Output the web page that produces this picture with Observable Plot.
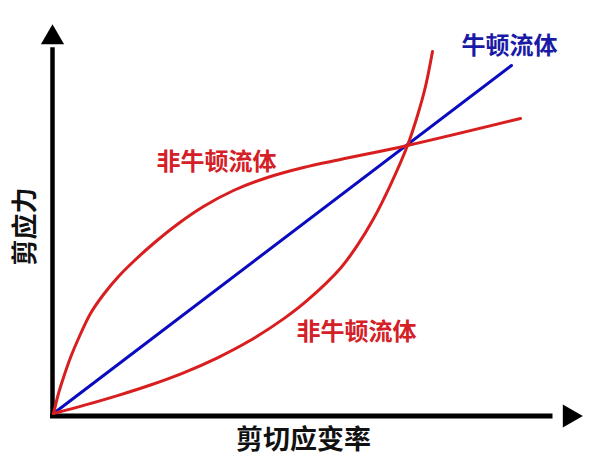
<!DOCTYPE html>
<html>
<head>
<meta charset="utf-8">
<script src="https://cdn.jsdelivr.net/npm/d3@7"></script>
<script src="https://cdn.jsdelivr.net/npm/@observablehq/plot@0.6"></script>
<style>
  html, body { margin: 0; padding: 0; background: #fff; }
  #chart svg { display: block; }
</style>
</head>
<body>
<div id="chart"></div>
<script>
// Shear rate (x) and shear stress (y), arbitrary units
const newtonX = [0, 9.16];
const newtonY = [0, 8.7];

const shearThinX = [0, 0.1, 0.2, 0.34, 0.5, 0.74, 1.0, 1.3, 1.6, 2.0, 2.5, 3.0, 3.6, 4.28, 5.0, 5.74, 7.08, 9.34];
const shearThinY = [0, 0.5, 0.9, 1.4, 1.875, 2.5, 2.975, 3.425, 3.8, 4.25, 4.75, 5.175, 5.575, 5.9, 6.15, 6.35, 6.7, 7.375];

const shearThickX = [0, 0.64, 1.28, 1.94, 2.6, 3.28, 3.94, 4.6, 5.08, 5.74, 6.08, 6.4, 6.74, 7.08, 7.28, 7.44, 7.58];
const shearThickY = [0, 0.215, 0.448, 0.713, 1.018, 1.393, 1.83, 2.365, 2.833, 3.633, 4.208, 4.868, 5.718, 6.7, 7.45, 8.175, 9.05];

const labelText = ["牛顿流体", "非牛顿流体", "非牛顿流体"];
const labelX = [9.12, 3.26, 6.06];
const labelY = [9.175, 6.275, 2.025];
const labelColor = ["#1a1aa6", "#d42027", "#d42027"];

const xTitle = "剪切应变率";
const yTitle = "剪应力";

const xDomain = [0, 10.46];
const yDomain = [0, 9.725];

const RED = "#d81e1e";
const BLUE = "#0a0ac0";

const toRows = (xs, ys) => xs.map((x, i) => ({x, y: ys[i]}));
const labels = labelText.map((t, i) => ({t, x: labelX[i], y: labelY[i], c: labelColor[i]}));

const arrowLen = 0.47;
const arrowLenY = 0.58;

const chart = Plot.plot({
  width: 600,
  height: 471,
  marginLeft: 53,
  marginRight: 24,
  marginTop: 24,
  marginBottom: 58,
  x: {domain: xDomain, axis: null},
  y: {domain: yDomain, axis: null},
  style: {fontFamily: "'Noto Sans CJK SC', sans-serif", background: "#fff"},
  marks: [
    // axes
    Plot.ruleY([0], {x1: -0.06, x2: xDomain[1] - arrowLen, stroke: "#000", strokeWidth: 5, dy: 2.5}),
    Plot.ruleX([0], {y1: -0.09, y2: yDomain[1] - arrowLenY, stroke: "#000", strokeWidth: 4.5, dx: -1}),
    Plot.dot([{x: xDomain[1]}], {x: d => d.x, y: 0, symbol: "triangle", r: 8.6, fill: "#000", stroke: null, rotate: 90, dx: -7, dy: 2.5}),
    Plot.dot([{y: yDomain[1]}], {x: 0, y: d => d.y, symbol: "triangle", r: 8.6, fill: "#000", stroke: null, dx: -1, dy: 13}),
    // curves
    Plot.line(toRows(newtonX, newtonY), {x: "x", y: "y", stroke: BLUE, strokeWidth: 3}),
    Plot.line(toRows(shearThinX, shearThinY), {x: "x", y: "y", stroke: RED, strokeWidth: 3, curve: "catmull-rom"}),
    Plot.line(toRows(shearThickX, shearThickY), {x: "x", y: "y", stroke: RED, strokeWidth: 3, curve: "catmull-rom"}),
    // labels
    Plot.text(labels, {x: "x", y: "y", text: "t", fill: "c", fontSize: 24, fontWeight: "bold"}),
    Plot.text([xTitle], {x: 5.0, y: -0.675, text: d => d, fill: "#111", fontSize: 27, fontWeight: "bold"}),
    Plot.text([yTitle], {x: -0.56, y: 4.675, text: d => d, fill: "#111", fontSize: 26, fontWeight: "bold", rotate: -90})
  ]
});
document.getElementById("chart").appendChild(chart);
</script>
</body>
</html>
